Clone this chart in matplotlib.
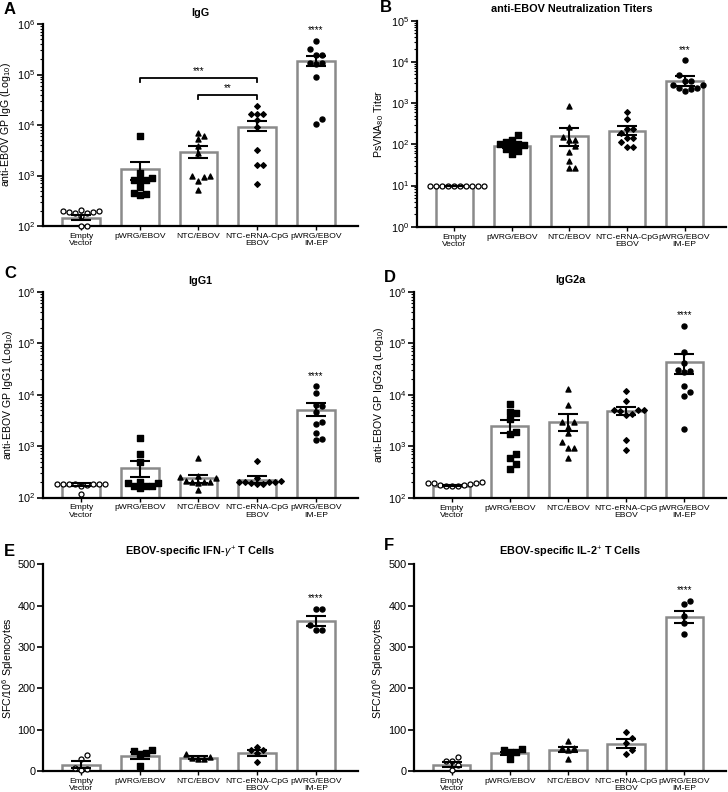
import numpy as np
import matplotlib.pyplot as plt
from matplotlib.ticker import LogLocator, NullFormatter, LogFormatterMathtext

plt.rcParams['font.family'] = ['Liberation Sans', 'DejaVu Sans']
plt.rcParams['mathtext.fontset'] = 'custom'
plt.rcParams['mathtext.rm'] = 'Liberation Sans'
plt.rcParams['mathtext.it'] = 'Liberation Sans:italic'

groups = ["Empty\nVector", "pWRG/EBOV", "NTC/EBOV", "NTC-eRNA-CpG\nEBOV", "pWRG/EBOV\nIM-EP"]
markers = ["o", "s", "^", "D", "o"]

# A - IgG
igg_pts = [
    [185, 205, 190, 190, 195, 200, 180, 155, 100, 100],
    [6100, 1130, 830, 830, 800, 580, 420, 450, 440, 900],
    [7100, 6100, 5200, 3850, 2850, 970, 970, 950, 770, 525],
    [24000, 16600, 16600, 16600, 12600, 9000, 3250, 1620, 1620, 690],
    [460000, 320000, 247000, 247000, 166000, 166000, 160000, 89000, 13000, 10500],
]
igg_mean = [146, 1320, 2900, 9100, 185000]
igg_lo = [132, 830, 2200, 7500, 150000]
igg_hi = [166, 1870, 3800, 12200, 236000]

# B - neutralization titers
neut_pts = [
    [10, 10, 10, 10, 10, 10, 10, 10, 10, 10],
    [167, 130, 115, 100, 100, 95, 85, 75, 68, 58],
    [850, 270, 150, 126, 126, 90, 66, 40, 27, 27],
    [600, 405, 230, 230, 185, 142, 142, 112, 87, 87],
    [11000, 4700, 3500, 3400, 2750, 2750, 2300, 2300, 2200, 2000],
]
neut_mean = [10, 91, 163, 213, 3500]
neut_lo = [10, 80, 91, 167, 2650]
neut_hi = [10, 102, 253, 277, 4600]

# C - IgG1
igg1_pts = [
    [185, 185, 185, 180, 170, 175, 185, 185, 185, 118],
    [1450, 700, 500, 200, 195, 195, 170, 165, 165, 150],
    [580, 260, 250, 240, 210, 200, 200, 200, 195, 140],
    [520, 240, 205, 200, 200, 200, 200, 195, 185, 180],
    [14500, 11000, 6200, 6000, 4600, 3000, 2700, 1800, 1400, 1300],
]
igg1_mean = [178, 380, 240, 224, 5100]
igg1_lo = [168, 253, 195, 192, 3900]
igg1_hi = [188, 515, 280, 260, 6800]

# D - IgG2a
igg2a_pts = [
    [200, 195, 195, 190, 185, 180, 175, 170, 170, 165],
    [6500, 4700, 4400, 3400, 1900, 1700, 700, 590, 450, 360],
    [12700, 6300, 2900, 2900, 2400, 1800, 1200, 930, 930, 580],
    [12000, 7600, 5000, 5000, 5000, 4800, 4200, 4100, 1300, 850],
    [214000, 66000, 42000, 30000, 29000, 28000, 14800, 11500, 9400, 2130],
]
igg2a_mean = [172, 2500, 3000, 4800, 43000]
igg2a_lo = [165, 1800, 1950, 4000, 25000]
igg2a_hi = [180, 3250, 4200, 5900, 63000]

# E - IFN-gamma ELISpot
ifn_pts = [
    [38, 29, 8, 6, 2],
    [50, 48, 43, 42, 12],
    [42, 35, 32, 30, 28],
    [59, 51, 50, 43, 22],
    [391, 391, 352, 340, 340],
]
ifn_mean = [15, 36, 32, 44, 362]
ifn_lo = [8, 30, 28, 37, 351]
ifn_hi = [24, 45, 36, 52, 375]

# F - IL-2 ELISpot
il2_pts = [
    [33, 25, 24, 14, 2],
    [53, 50, 46, 45, 28],
    [72, 56, 55, 52, 30],
    [95, 79, 68, 50, 42],
    [412, 403, 375, 358, 331],
]
il2_mean = [15, 43, 52, 65, 372]
il2_lo = [9, 39, 46, 56, 357]
il2_hi = [22, 47, 58, 77, 388]


def swarm(vals, to_px, step=6.0, min_d=6.0):
    # simple beeswarm: returns x offsets in pixels
    ys = [to_px(v) for v in vals]
    order = np.argsort(ys)
    placed = []
    offs = np.zeros(len(vals))
    for i in order:
        y = ys[i]
        k = 0
        while True:
            cands = [0.0] if k == 0 else [k * step, -k * step]
            ok = None
            for c in cands:
                if all((c - px) ** 2 + (y - py) ** 2 >= min_d ** 2 for px, py in placed):
                    ok = c
                    break
            if ok is not None:
                break
            k += 1
        offs[i] = ok
        placed.append((ok, y))
    return offs


def panel(rect, pts, mean, lo, hi, title, ylabel, log, ylim, letter, letter_xy, stars, ylab_x):
    ax = fig.add_axes(rect)
    x = np.arange(len(groups))
    ax.set_xlim(-0.65, 4.72)
    if log:
        ax.set_yscale('log')
    ax.set_ylim(*ylim)
    ax_h_px = rect[3] * 792
    px_per_unit = rect[2] * 728 / 5.37

    ax.bar(x, mean, width=0.64, color='white', edgecolor='#8a8a8a', linewidth=1.8, zorder=1)
    for i, vals in enumerate(pts):
        if log:
            lo_l, hi_l = np.log10(ylim[0]), np.log10(ylim[1])
            to_px = lambda v: (np.log10(v) - lo_l) / (hi_l - lo_l) * ax_h_px
        else:
            to_px = lambda v: (v - ylim[0]) / (ylim[1] - ylim[0]) * ax_h_px
        offs = swarm(vals, to_px)
        xs = x[i] + offs / px_per_unit
        if i == 0:
            ax.scatter(xs, vals, marker=markers[i], s=13, facecolor='white', edgecolor='black',
                       linewidth=0.9, zorder=3, clip_on=False)
        else:
            ms = 8 if markers[i] == 'D' else 13
            ax.scatter(xs, vals, marker=markers[i], s=ms, color='black', zorder=3, clip_on=False)
    mean_a = np.array(mean, dtype=float)
    yerr = [mean_a - np.array(lo), np.array(hi) - mean_a]
    ax.errorbar(x, mean_a, yerr=yerr, fmt='none', ecolor='black', elinewidth=1.5,
                capsize=7, capthick=1.5, zorder=4)

    ax.spines['top'].set_visible(False)
    ax.spines['right'].set_visible(False)
    ax.spines['left'].set_linewidth(1.6)
    ax.spines['bottom'].set_linewidth(1.6)
    ax.set_xticks(x)
    ax.set_xticklabels(groups, fontsize=6.1, linespacing=1.05)
    ax.tick_params(axis='x', length=3, width=1, pad=2)
    ax.tick_params(axis='y', labelsize=7.8, length=4, width=1.2, pad=1.5)
    if log:
        ax.yaxis.set_major_locator(LogLocator(base=10, numticks=10))
        ax.yaxis.set_major_formatter(LogFormatterMathtext())
        ax.yaxis.set_minor_locator(LogLocator(base=10, subs=np.arange(2, 10), numticks=20))
        ax.yaxis.set_minor_formatter(NullFormatter())
        ax.tick_params(axis='y', which='minor', length=2, width=0.8)
    else:
        ax.set_yticks([0, 100, 200, 300, 400, 500])
    ax.set_ylabel(ylabel, fontsize=7.6)
    ax.yaxis.set_label_coords(ylab_x, 0.5)
    ax.set_title(title, fontsize=7.8, fontweight='bold', pad=6)
    fig.text(letter_xy[0] / 728, 1 - letter_xy[1] / 792, letter, fontsize=12,
             fontweight='bold', ha='left', va='center')
    if stars:
        sy = max(pts[4]) * (1.3 if log else 1.0) + (0 if log else 14)
        ax.text(4, sy, stars, ha='center', va='bottom', fontsize=7)
    return ax


fig = plt.figure(figsize=(7.28, 7.92), dpi=100)

axA = panel([43 / 728, 1 - 226 / 792, 315 / 728, 202 / 792], igg_pts, igg_mean, igg_lo, igg_hi,
            "IgG", "anti-EBOV GP IgG (Log$_{10}$)", True, (1e2, 1e6), "A", (4, 10), "****", -0.095)
# significance brackets in A
br_y = [86000, 39000]
br_leg = [72000, 32000]
br_x = [(1, 3), (2, 3)]
br_txt = ["***", "**"]
for (x0, x1), yb, yl, t in zip(br_x, br_y, br_leg, br_txt):
    axA.plot([x0, x0, x1, x1], [yl, yb, yb, yl], color='black', lw=1.3, zorder=5)
    axA.text((x0 + x1) / 2, yb * 1.08, t, ha='center', va='bottom', fontsize=7)

panel([417 / 728, 1 - 226.7 / 792, 309 / 728, 206 / 792], neut_pts, neut_mean, neut_lo, neut_hi,
      "anti-EBOV Neutralization Titers", "PsVNA$_{80}$ Titer", True, (1, 1e5), "B", (380, 8), "***",
      -0.10)

panel([43 / 728, 1 - 497.5 / 792, 315 / 728, 205.5 / 792], igg1_pts, igg1_mean, igg1_lo, igg1_hi,
      "IgG1", "anti-EBOV GP IgG1 (Log$_{10}$)", True, (1e2, 1e6), "C", (4, 274), "****", -0.09)

panel([414 / 728, 1 - 497.7 / 792, 312 / 728, 206 / 792], igg2a_pts, igg2a_mean, igg2a_lo, igg2a_hi,
      "IgG2a", "anti-EBOV GP IgG2a (Log$_{10}$)", True, (1e2, 1e6), "D", (384, 278), "****", -0.09)

panel([43 / 728, 1 - 771 / 792, 315 / 728, 206.7 / 792], ifn_pts, ifn_mean, ifn_lo, ifn_hi,
      "EBOV-specific IFN-$\\gamma^{+}$ T Cells", "SFC/10$^6$ Splenocytes", False, (0, 500),
      "E", (4, 552), "****", -0.085)

panel([414 / 728, 1 - 771 / 792, 312 / 728, 206.7 / 792], il2_pts, il2_mean, il2_lo, il2_hi,
      "EBOV-specific IL-2$^{+}$ T Cells", "SFC/10$^6$ Splenocytes", False, (0, 500),
      "F", (384, 545), "****", -0.09)

fig.savefig("out.png", dpi=100)
